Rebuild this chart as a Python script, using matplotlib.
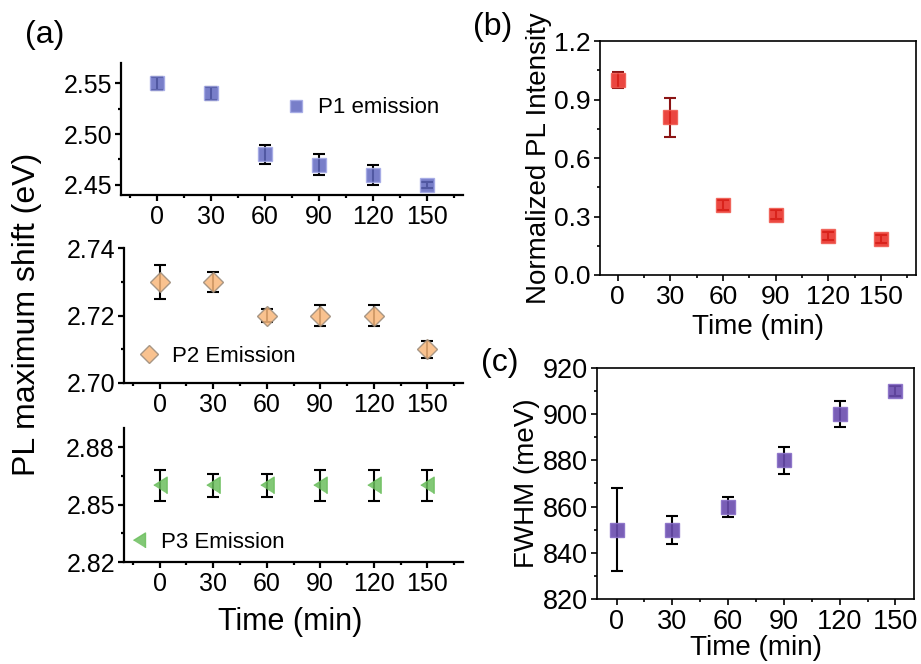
import matplotlib.pyplot as plt
from matplotlib.ticker import MultipleLocator, FormatStrFormatter

plt.rcParams['font.family'] = ['Liberation Sans', 'DejaVu Sans']

# annealing time (min)
time = [0, 30, 60, 90, 120, 150]

# PL peak positions (eV) with errors
p1 = [2.55, 2.54, 2.48, 2.47, 2.46, 2.45]
p1_err = [0.0065, 0.0068, 0.009, 0.010, 0.010, 0.003]
p2 = [2.73, 2.73, 2.72, 2.72, 2.72, 2.71]
p2_err = [0.005, 0.003, 0.002, 0.003, 0.003, 0.0025]
p3 = [2.86, 2.86, 2.86, 2.86, 2.86, 2.86]
p3_err = [0.008, 0.006, 0.006, 0.008, 0.008, 0.008]

# normalized PL intensity
intensity = [1.0, 0.81, 0.36, 0.31, 0.20, 0.185]
intensity_err = [0.04, 0.10, 0.025, 0.022, 0.02, 0.02]

# FWHM (meV)
fwhm = [850, 850, 860, 880, 900, 910]
fwhm_err = [18, 6, 4.3, 6, 5.7, 2.2]

W, H = 921, 664
fig = plt.figure(figsize=(W / 100, H / 100), dpi=100)


def px_axes(left, top, right, bottom):
    return fig.add_axes([left / W, 1 - bottom / H, (right - left) / W, (bottom - top) / H])


def style(ax, fs, lw, box):
    ax.xaxis.set_major_locator(MultipleLocator(30))
    ax.xaxis.set_minor_locator(MultipleLocator(15))
    ax.tick_params(which='both', direction='out', width=lw, labelsize=fs)
    ax.tick_params(which='major', length=4.5)
    ax.tick_params(which='minor', length=2.5)
    ax.tick_params(axis='x', pad=3)
    ax.tick_params(axis='y', pad=2)
    for s in ax.spines.values():
        s.set_linewidth(lw)
    if not box:
        ax.spines['top'].set_visible(False)
        ax.spines['right'].set_visible(False)


tri = [(-0.8, 0), (0.8, 1), (0.8, -1)]

# (a) three peak positions, stacked
a1 = px_axes(121, 63, 463, 195)
a2 = px_axes(124, 248, 463, 383)
a3 = px_axes(124, 428, 463, 562)

panels = [
    (a1, p1, p1_err, 's', '#6068c0', '#a3a8e6', 9.5, 'P1 emission', (2.44, 2.57), 0.05, 0.025, (0.478, 0.66)),
    (a2, p2, p2_err, 'D', '#f9b87c', '#9a8a7a', 10, 'P2 Emission', (2.70, 2.74), 0.02, 0.01, (0.042, 0.195)),
    (a3, p3, p3_err, tri, '#6cbf5e', '#6cbf5e', 12, 'P3 Emission', (2.82, 2.89), 0.03, 0.015, (0.01, 0.145)),
]
for ax, y, e, mk, fc, ec, ms, lab, ylim, major, minor, lpos in panels:
    ax.errorbar(time, y, yerr=e, fmt='none', ecolor='k', elinewidth=1.5,
                capsize=4, capthick=1.5, zorder=2)
    ax.plot(time, y, ls='none', marker=mk, ms=ms, mfc=fc, mec=ec, mew=1,
            alpha=0.85, zorder=3, label=lab)
    ax.set_xlim(-20, 170)
    ax.set_ylim(*ylim)
    ax.yaxis.set_major_locator(MultipleLocator(major))
    ax.yaxis.set_minor_locator(MultipleLocator(minor))
    ax.yaxis.set_major_formatter(FormatStrFormatter('%.2f'))
    style(ax, 18, 1.6, False)
    ax.legend(loc='center left', bbox_to_anchor=lpos, frameon=False,
              fontsize=16, handlelength=1.0, handletextpad=0.5,
              borderpad=0, borderaxespad=0, markerscale=0.9)

fig.text(290 / W, 1 - 622 / H, 'Time (min)', fontsize=22, ha='center', va='center')
fig.text(27 / W, 1 - 314 / H, 'PL maximum shift (eV)', fontsize=23,
         rotation=90, ha='center', va='center')
fig.text(45 / W, 1 - 35 / H, '(a)', fontsize=23, ha='center', va='center')

# (b) normalized PL intensity
b = px_axes(600, 41, 916, 275)
b.errorbar(time, intensity, yerr=intensity_err, fmt='none', ecolor='#8b1414',
           elinewidth=1.5, capsize=4, capthick=1.5, zorder=2)
b.plot(time, intensity, ls='none', marker='s', ms=10, mfc='#e8261e',
       mec='#f05a50', alpha=0.85, zorder=3)
b.set_xlim(-10, 170)
b.set_ylim(0, 1.2)
b.yaxis.set_major_locator(MultipleLocator(0.3))
b.yaxis.set_minor_locator(MultipleLocator(0.15))
b.yaxis.set_major_formatter(FormatStrFormatter('%.1f'))
style(b, 19, 1.2, True)
b.set_xlabel('Time (min)', fontsize=20, labelpad=3)
b.set_ylabel('Normalized PL Intensity', fontsize=20, labelpad=2)
fig.text(493 / W, 1 - 27 / H, '(b)', fontsize=23, ha='center', va='center')

# (c) FWHM
c = px_axes(597, 368, 914, 599)
c.errorbar(time, fwhm, yerr=fwhm_err, fmt='none', ecolor='k',
           elinewidth=1.5, capsize=4, capthick=1.5, zorder=2)
c.plot(time, fwhm, ls='none', marker='s', ms=10, mfc='#6a4cae',
       mec='#8a70c8', alpha=0.9, zorder=3)
c.set_xlim(-10.5, 160)
c.set_ylim(820, 920)
c.yaxis.set_major_locator(MultipleLocator(20))
c.yaxis.set_minor_locator(MultipleLocator(10))
style(c, 19.5, 1.2, True)
c.set_xlabel('Time (min)', fontsize=20, labelpad=0)
c.set_ylabel('FWHM (meV)', fontsize=20, labelpad=2)
fig.text(500 / W, 1 - 363 / H, '(c)', fontsize=23, ha='center', va='center')

fig.savefig('out.png', dpi=100)
